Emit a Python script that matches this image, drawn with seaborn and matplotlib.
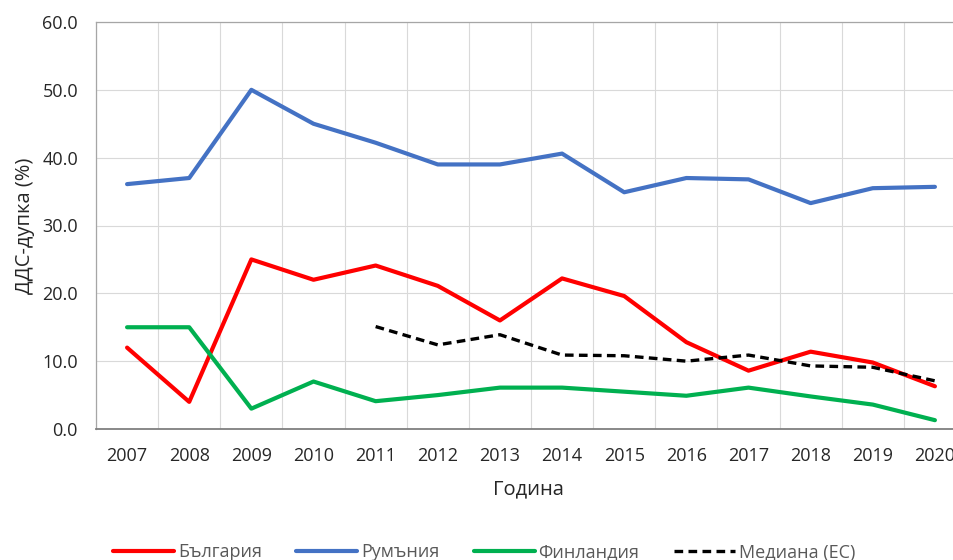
import matplotlib
matplotlib.use('Agg')
import matplotlib.pyplot as plt
from matplotlib.lines import Line2D
from matplotlib.ticker import MultipleLocator, FormatStrFormatter
import pandas as pd
import seaborn as sns

years = list(range(2007, 2021))
bulgaria = [12.0, 4.0, 25.0, 22.0, 24.1, 21.1, 16.0, 22.2, 19.6, 12.8, 8.6, 11.4, 9.8, 6.3]
romania = [36.1, 37.0, 50.0, 45.0, 42.2, 39.0, 39.0, 40.6, 34.9, 37.0, 36.8, 33.3, 35.5, 35.7]
finland = [15.0, 15.0, 3.0, 7.0, 4.1, 5.0, 6.1, 6.1, 5.5, 4.9, 6.1, 4.8, 3.6, 1.3]
median_years = list(range(2011, 2021))
median_eu = [15.1, 12.4, 13.9, 10.9, 10.8, 10.0, 10.9, 9.3, 9.1, 7.1]

names = ['България', 'Румъния', 'Финландия', 'Медиана (ЕС)']
colors = ['#FF0000', '#4472C4', '#00B050', '#000000']

sns.set_style('white')
plt.rcParams['font.family'] = ['Open Sans', 'DejaVu Sans']

fig = plt.figure(figsize=(9.54, 5.6), dpi=100)
ax = fig.add_axes([96 / 954, 131 / 560, 870 / 954, 407 / 560])

series = [(years, bulgaria), (years, romania), (years, finland)]
for (x, y), name, col in zip(series, names[:3], colors[:3]):
    df = pd.DataFrame({'year': x, 'value': y})
    sns.lineplot(data=df, x='year', y='value', ax=ax, color=col, linewidth=3.0,
                 solid_capstyle='round', solid_joinstyle='round', zorder=3)

dfm = pd.DataFrame({'year': median_years, 'value': median_eu})
sns.lineplot(data=dfm, x='year', y='value', ax=ax, color=colors[3], linewidth=2.4,
             linestyle=(0, (2.6, 1.6)), zorder=4)

ax.set_xlim(2006.5, 2020.5)
ax.set_ylim(0, 60)
ax.set_xticks(years)
ax.xaxis.set_minor_locator(MultipleLocator(1, offset=0.5))
ax.yaxis.set_major_locator(MultipleLocator(10))
ax.yaxis.set_major_formatter(FormatStrFormatter('%.1f'))
ax.grid(which='minor', axis='x', color='#D9D9D9', linewidth=0.8)
ax.grid(which='major', axis='y', color='#D9D9D9', linewidth=0.8)
ax.tick_params(which='both', length=0)
ax.tick_params(axis='y', pad=13, labelsize=13, labelcolor='#262626')
ax.tick_params(axis='x', pad=13, labelsize=13, labelcolor='#262626')

for side in ['left', 'top', 'right']:
    ax.spines[side].set_color('#A6A6A6')
    ax.spines[side].set_linewidth(0.9)
ax.spines['bottom'].set_color('#7F7F7F')
ax.spines['bottom'].set_linewidth(1.3)

ax.set_xlabel('Година', fontsize=14.5, color='#262626')
ax.set_ylabel('ДДС-дупка (%)', fontsize=14.5, color='#262626')
ax.xaxis.set_label_coords((528 - 96) / 870, -0.125)
ax.yaxis.set_label_coords(-0.07, 0.5)

handles = [Line2D([], [], color=colors[0], lw=3.0, solid_capstyle='round'),
           Line2D([], [], color=colors[1], lw=3.0, solid_capstyle='round'),
           Line2D([], [], color=colors[2], lw=3.0, solid_capstyle='round'),
           Line2D([], [], color=colors[3], lw=2.4, linestyle=(0, (2.6, 1.6)))]
fig.legend(handles, names, loc='center', bbox_to_anchor=(484 / 954, 1 - 552 / 560),
           ncol=4, frameon=False, fontsize=13, labelcolor='#595959',
           handlelength=3.4, handletextpad=0.2, columnspacing=1.9)

fig.savefig('out.png', dpi=100)
